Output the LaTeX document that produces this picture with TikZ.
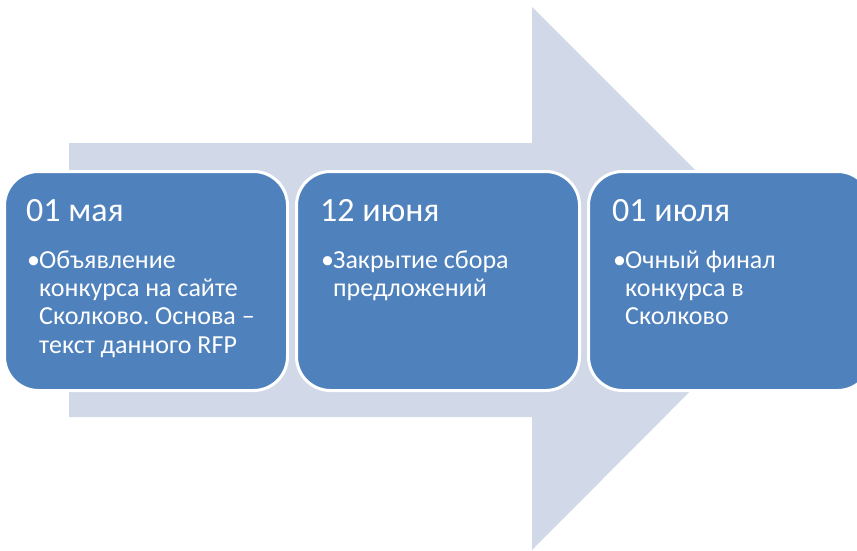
\documentclass[tikz,border=0pt]{standalone}
\usepackage{fontspec}
\setmainfont{Carlito}
\frenchspacing
\definecolor{arrowfill}{HTML}{D1D8E8}
\definecolor{boxfill}{HTML}{4F81BD}
\begin{document}
\begin{tikzpicture}[x=1pt,y=-1pt,
  stage/.style={draw=white,line width=3pt,fill=boxfill,rounded corners=34pt,
    minimum width=283pt,minimum height=219pt,anchor=north west,inner sep=0pt},
  title/.style={text=white,font=\fontsize{34}{40}\selectfont,anchor=base west,inner sep=0pt},
  bullet/.style={text=white,font=\fontsize{26}{28.3}\selectfont,anchor=base west,inner sep=0pt},
  body/.style={text=white,font=\fontsize{26}{28.3}\selectfont,anchor=base west,inner sep=0pt,align=left}]
\useasboundingbox (0,0) rectangle (857,551);
\clip (0,0) rectangle (857,551);
\fill[arrowfill] (69,143) -- (532,143) -- (532,7) -- (803,278) -- (532,550) -- (532,417) -- (69,417) -- cycle;
\node[stage] (b1) at (3,170) {};
\node[stage] (b2) at (295,170) {};
\node[stage] (b3) at (587,170) {};
\node[title] (t1) at (26,221) {01 мая};
\node[title] (t2) at (320,221) {12 июня};
\node[title] (t3) at (612,221) {01 июля};
\node[bullet] (u1) at (27,268) {•};
\node[bullet] (u2) at (321,268) {•};
\node[bullet] (u3) at (613,268) {•};
\node[body] (x1) at (39,353) {Объявление\\конкурса на сайте\\Сколково. Основа –\\текст данного RFP};
\node[body] (x2) at (333,296.3) {Закрытие сбора\\предложений};
\node[body] (x3) at (625,324.6) {Очный финал\\конкурса в\\Сколково};
\end{tikzpicture}
\end{document}
